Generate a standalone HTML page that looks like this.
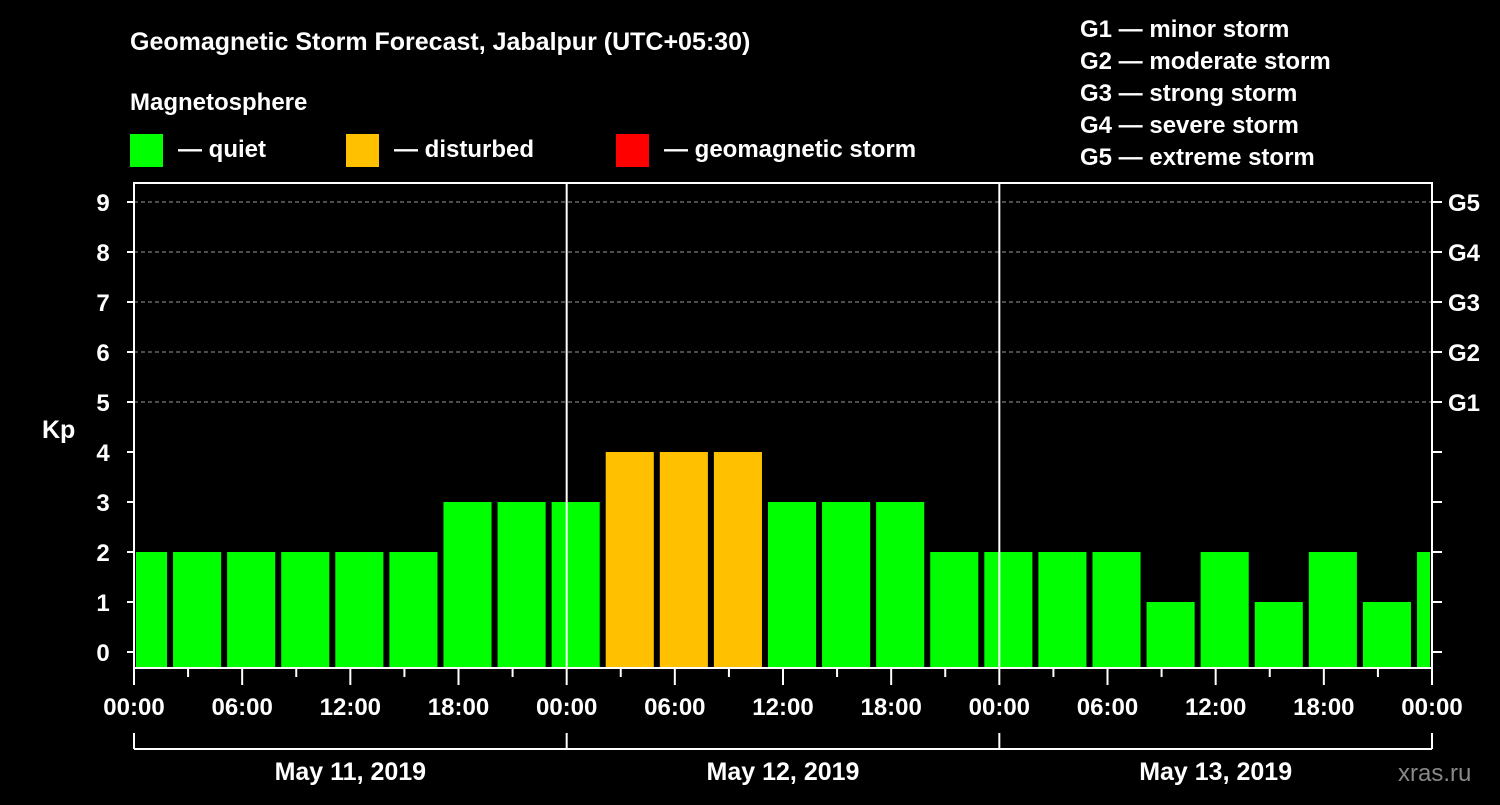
<!DOCTYPE html>
<html><head><meta charset="utf-8"><style>
body{margin:0;background:#000;width:1500px;height:800px;overflow:hidden}
svg text{font-family:"Liberation Sans",sans-serif;font-weight:bold;fill:#fff}
</style></head><body>
<svg id="c" width="1500" height="800">
<text x="130" y="50" font-size="25">Geomagnetic Storm Forecast, Jabalpur (UTC+05:30)</text>
<text x="130" y="110" font-size="24">Magnetosphere</text>
<g><rect x="130" y="134" width="33" height="33" fill="#00ff00"/><text x="178" y="157" font-size="24">— quiet</text></g>
<g><rect x="346" y="134" width="33" height="33" fill="#ffc000"/><text x="394" y="157" font-size="24">— disturbed</text></g>
<g><rect x="616" y="134" width="33" height="33" fill="#ff0000"/><text x="664" y="157" font-size="24">— geomagnetic storm</text></g>
<g font-size="24">
<text x="1080" y="37">G1 — minor storm</text><text x="1080" y="69">G2 — moderate storm</text><text x="1080" y="101">G3 — strong storm</text><text x="1080" y="133">G4 — severe storm</text><text x="1080" y="165">G5 — extreme storm</text></g>
<text x="42" y="438" font-size="25">Kp</text>
<text x="1398" y="781" font-size="24" fill="#888" style="fill:#888;font-weight:normal">xras.ru</text>
<g id="g"></g>
</svg>
<script>
const kpValues=[2,2,2,2,2,2,3,3,3,4,4,4,3,3,3,2,2,2,2,1,2,1,2,1,2];
const yTicks=[0,1,2,3,4,5,6,7,8,9];
const gLabels=["G1","G2","G3","G4","G5"];
const xLabels=["00:00","06:00","12:00","18:00","00:00","06:00","12:00","18:00","00:00","06:00","12:00","18:00","00:00"];
const dayLabels=["May 11, 2019","May 12, 2019","May 13, 2019"];
const firstSlotHour=-1;
const NS="http://www.w3.org/2000/svg",g=document.getElementById('g');
const L=134,R=1432,T=183,B=668;
const x=h=>L+(R-L)*h/72, y=v=>652-50*v;
function el(t,a,txt){const e=document.createElementNS(NS,t);for(const k in a)e.setAttribute(k,a[k]);if(txt!=null)e.textContent=txt;g.appendChild(e);return e;}
yTicks.forEach(v=>{
 if(v>=5){const l=el('line',{x1:L,x2:R,y1:y(v),y2:y(v),stroke:'#999','stroke-dasharray':'4,3'});
 }
 const t=el('text',{x:103,y:y(v)+9,'font-size':24,'text-anchor':'middle'},v);
 
 el('line',{x1:L-7,x2:L,y1:y(v),y2:y(v),stroke:'#fff','stroke-width':2});
 el('line',{x1:R,x2:R+10,y1:y(v),y2:y(v),stroke:'#fff','stroke-width':2});
 if(v>=5){const gt=el('text',{x:1448,y:y(v)+9,'font-size':24},gLabels[v-5]);
 }
});
const cp=el('clipPath',{id:'cp'});cp.appendChild(el('rect',{x:L+2,y:T,width:R-L-4,height:B-T}));
kpValues.forEach((v,i)=>{
 const h0=firstSlotHour+3*i;
 const r=el('rect',{x:x(h0)+3,y:y(v),width:x(3)-x(0)-6,height:B-y(v),fill:v>=5?'#ff0000':v>=4?'#ffc000':'#00ff00','clip-path':'url(#cp)'});
 
});
[24,48].forEach(h=>el('line',{x1:x(h),x2:x(h),y1:T,y2:B,stroke:'#fff','stroke-width':2}));
const f=el('rect',{x:L,y:T,width:R-L,height:B-T,fill:'none',stroke:'#fff','stroke-width':2});

for(let h=0;h<=72;h+=3)el('line',{x1:x(h),x2:x(h),y1:B,y2:B+(h%6?9:17),stroke:'#fff','stroke-width':2});
xLabels.forEach((s,i)=>{const t=el('text',{x:x(6*i),y:715,'font-size':24,'text-anchor':'middle'},s);
 });
el('line',{x1:L,x2:R,y1:749,y2:749,stroke:'#fff','stroke-width':2});
[0,24,48,72].forEach(h=>el('line',{x1:x(h),x2:x(h),y1:733,y2:749,stroke:'#fff','stroke-width':2}));
dayLabels.forEach((s,i)=>{const t=el('text',{x:x(24*i+12),y:780,'font-size':25,'text-anchor':'middle'},s);
 });
</script>
</body></html>
